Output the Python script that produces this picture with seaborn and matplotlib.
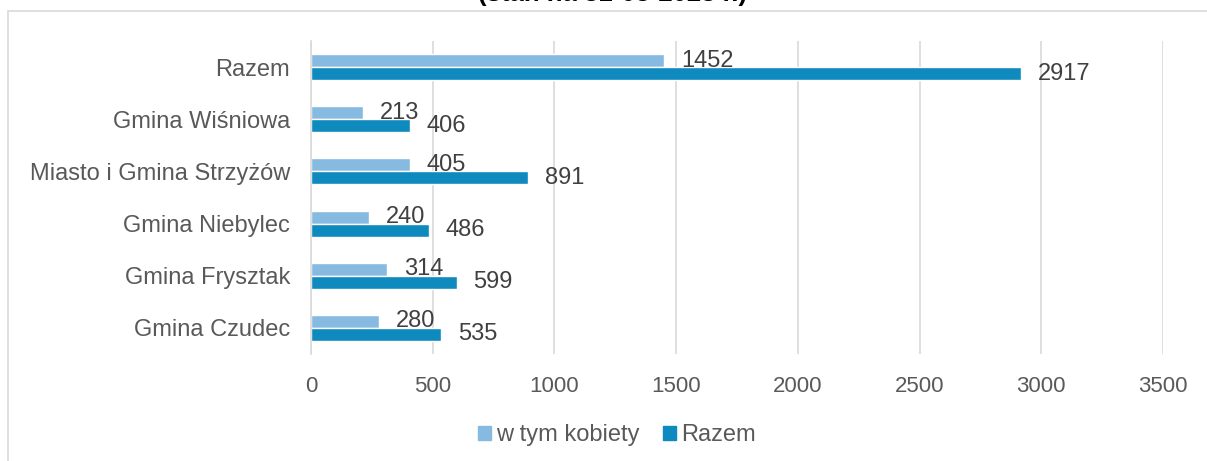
import seaborn as sns
import matplotlib.pyplot as plt
import pandas as pd
from matplotlib.patches import Rectangle

sns.set_theme(style="white")
plt.rcParams['font.family'] = ['Liberation Sans', 'DejaVu Sans']

# data
gminy = ["Razem", "Gmina Wiśniowa", "Miasto i Gmina Strzyżów",
         "Gmina Niebylec", "Gmina Frysztak", "Gmina Czudec"]
kobiety = [1452, 213, 405, 240, 314, 280]
razem = [2917, 406, 891, 486, 599, 535]
serie = ["w tym kobiety", "Razem"]
ticks = [0, 500, 1000, 1500, 2000, 2500, 3000, 3500]

df = pd.DataFrame({
    "gmina": gminy * 2,
    "seria": [serie[0]] * len(gminy) + [serie[1]] * len(gminy),
    "wartosc": kobiety + razem,
})

kolory = ["#86BAE0", "#0E8ABF"]

fig = plt.figure(figsize=(12.07, 4.61), dpi=100)
ax = fig.add_axes([311 / 1207, 1 - 354 / 461, (1163 - 311) / 1207, (354 - 41) / 461])

sns.barplot(data=df, x="wartosc", y="gmina", hue="seria", order=gminy,
            hue_order=serie, orient="h", width=0.5,
            palette=kolory, saturation=1, ax=ax, legend=False)

for cont in ax.containers:
    ax.bar_label(cont, padding=12, fontsize=17, color="#404040")

ax.set_xlim(0, 3500)
ax.set_xticks(ticks)
ax.set_xticklabels([str(t) for t in ticks])
ax.xaxis.grid(True, color="#D9D9D9", linewidth=1.2)
ax.set_axisbelow(True)
ax.set_xlabel("")
ax.set_ylabel("")
ax.tick_params(axis="both", length=0, labelcolor="#595959")
ax.tick_params(axis="x", pad=16, labelsize=16)
ax.tick_params(axis="y", pad=15, labelsize=17)
for s in ["top", "right", "bottom"]:
    ax.spines[s].set_visible(False)
ax.spines["left"].set_color("#D9D9D9")
ax.spines["left"].set_linewidth(1.2)

# legend
handles = [Rectangle((0, 0), 1, 1, color=c) for c in kolory]
fig.legend(handles, serie, loc="center", bbox_to_anchor=(617 / 1207, 1 - 435 / 461),
           ncol=2, frameon=False, fontsize=17, labelcolor="#595959",
           handlelength=0.55, handleheight=0.55, handletextpad=0.2, columnspacing=1.0)

# outer chart frame
fig.patches.append(Rectangle((8 / 1207, -0.1), 1.1, 1 - 11.5 / 461 + 0.1,
                             transform=fig.transFigure, fill=False,
                             edgecolor="#D9D9D9", linewidth=1.2))

# title, mostly cut off at the top
fig.text(613 / 1207, 1 - 1.5 / 461, "(stan na 31-03-2023 r.)", ha="center", va="baseline",
         fontsize=18.5, fontweight="bold", color="#000000")

fig.savefig("out.png", dpi=100)
